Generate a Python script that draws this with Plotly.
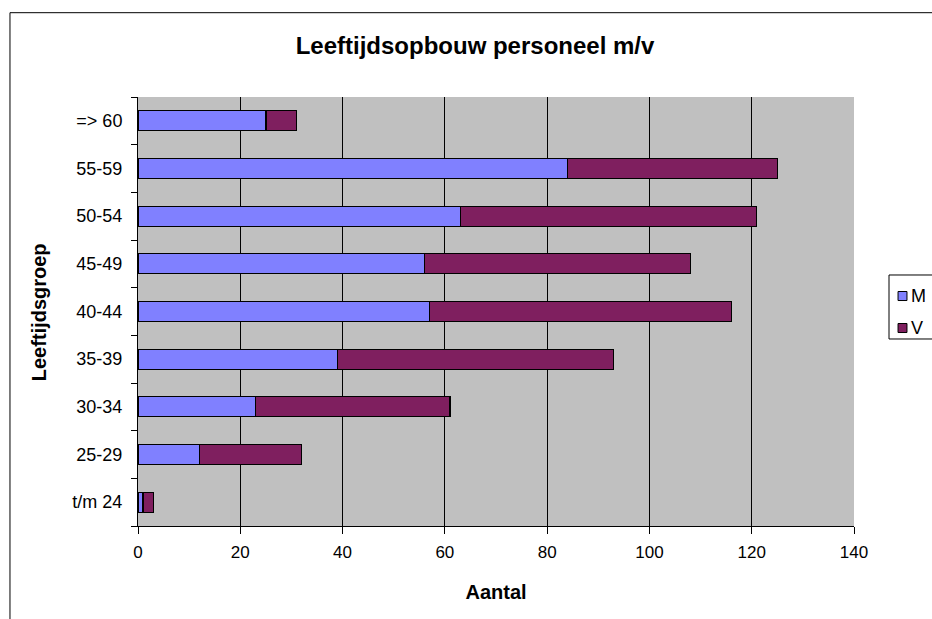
import plotly.graph_objects as go

# ------------------------------------------------------------
# DATA
# ------------------------------------------------------------

age_groups = ["t/m 24", "25-29", "30-34", "35-39", "40-44",
              "45-49", "50-54", "55-59", "=> 60"]
men = [1, 12, 23, 39, 57, 56, 63, 84, 25]
women = [2, 20, 38, 54, 59, 52, 58, 41, 6]

series_names = ["M", "V"]
series_colors = ["#8080FF", "#7F1F5F"]

x_ticks = [0, 20, 40, 60, 80, 100, 120, 140]

FONT = "Liberation Sans, Arial, sans-serif"

# ------------------------------------------------------------
# BARS
# ------------------------------------------------------------

fig = go.Figure()

for name, color, vals in zip(series_names, series_colors, [men, women]):
    fig.add_trace(go.Bar(
        y=age_groups, x=vals, orientation="h", name=name,
        marker=dict(color=color, line=dict(color="black", width=1.3)),
        width=0.42, showlegend=False,
    ))

# ------------------------------------------------------------
# FRAME + LEGEND (Excel style, drawn in paper coords)
# ------------------------------------------------------------

# outer chart border
fig.add_shape(type="rect", xref="paper", yref="paper",
              x0=-0.1788, y0=-0.25, x1=1.13, y1=1.1965,
              line=dict(color="black", width=1), layer="below")

# legend box
fig.add_shape(type="rect", xref="paper", yref="paper",
              x0=1.0489, y0=0.4359, x1=1.13, y1=0.5851,
              line=dict(color="black", width=1), fillcolor="white")

for i, (name, color) in enumerate(zip(series_names, series_colors)):
    yc = 0.5361 - i * 0.0746
    fig.add_shape(type="rect", xref="paper", yref="paper",
                  x0=1.0615, x1=1.0740, y0=yc - 0.0105, y1=yc + 0.0105,
                  line=dict(color="black", width=1), fillcolor=color)
    fig.add_annotation(x=1.0765, y=yc, xref="paper", yref="paper",
                       text=name, showarrow=False, xanchor="left",
                       yanchor="middle", font=dict(size=18))

# y axis title
fig.add_annotation(x=-0.156, y=0.499, xref="paper", yref="paper",
                   text="<b>Leeftijdsgroep</b>", textangle=-90,
                   showarrow=False, font=dict(size=20))

# ------------------------------------------------------------
# LAYOUT
# ------------------------------------------------------------

fig.update_layout(
    barmode="stack",
    width=932, height=619,
    margin=dict(l=138, r=78, t=97, b=93, autoexpand=False),
    paper_bgcolor="white",
    plot_bgcolor="#C0C0C0",
    font=dict(family=FONT, size=17, color="black"),
    title=dict(text="<b>Leeftijdsopbouw personeel m/v</b>",
               x=0.4707, xref="paper", xanchor="center",
               y=0.926, yanchor="middle", font=dict(size=24)),
    showlegend=False,
)

fig.update_xaxes(
    range=[0, 140], tickvals=x_ticks,
    showgrid=True, gridcolor="black", gridwidth=1,
    showline=True, linecolor="black", linewidth=1,
    ticks="outside", ticklen=7, tickcolor="black",
    tickfont=dict(size=17), zeroline=False, ticklabelstandoff=4,
    title=dict(text="<b>Aantal</b>", font=dict(size=20), standoff=23),
)
fig.update_yaxes(
    categoryorder="array", categoryarray=age_groups,
    showline=True, linecolor="black", linewidth=1,
    ticks="outside", ticklen=6, tickcolor="black",
    tickson="boundaries", showgrid=False,
    tickfont=dict(size=18), ticklabelstandoff=11,
)

# drop the default page margin so the chart sits at (0, 0)
fig.write_html(
    "out.html",
    config={"displayModeBar": False},
    post_script="document.body.style.margin='0';"
                "document.body.style.overflow='hidden';",
)
